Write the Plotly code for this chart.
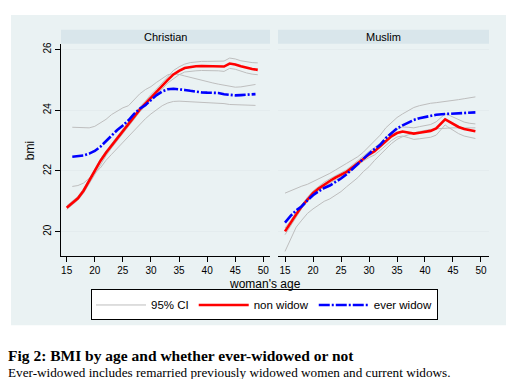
import plotly.graph_objects as go

W, H = 523, 379

# ---------------- data ----------------
# Christian
chr_nw_age = [15, 16, 17, 18, 19, 20, 21, 22, 23, 24, 25, 26, 27, 28, 29, 30, 31, 32,
              33, 34, 35, 36, 37, 38, 39, 40, 41, 42, 43, 44, 45, 46, 47, 48, 49]
chr_nw_bmi = [20.79, 20.95, 21.10, 21.35, 21.68, 22.03, 22.33, 22.60, 22.84, 23.08, 23.33,
              23.56, 23.78, 24.02, 24.22, 24.42, 24.60, 24.80, 25.00, 25.18, 25.30, 25.39,
              25.43, 25.45, 25.46, 25.46, 25.46, 25.45, 25.44, 25.54, 25.51, 25.45, 25.40,
              25.36, 25.33]
chr_nw_hi = [20.85, 21.01, 21.16, 21.41, 21.74, 22.09, 22.39, 22.66, 22.90, 23.14, 23.41,
             23.64, 23.86, 24.10, 24.30, 24.52, 24.70, 24.90, 25.10, 25.31, 25.43, 25.52,
             25.57, 25.60, 25.61, 25.61, 25.61, 25.61, 25.62, 25.72, 25.69, 25.63, 25.59,
             25.57, 25.56]
chr_nw_lo = [20.73, 20.89, 21.04, 21.27, 21.58, 21.92, 22.22, 22.50, 22.76, 23.00, 23.25,
             23.48, 23.70, 23.94, 24.14, 24.32, 24.50, 24.70, 24.90, 25.05, 25.17, 25.26,
             25.29, 25.30, 25.31, 25.31, 25.31, 25.30, 25.28, 25.38, 25.35, 25.28, 25.23,
             25.19, 25.17]

chr_ew_age = [16, 17, 18, 19, 20, 21, 22, 23, 24, 25, 26, 27, 28, 29, 30, 31, 32, 33,
              34, 35, 36, 37, 38, 39, 40, 41, 42, 43, 44, 45, 46, 47, 48, 48.6]
chr_ew_bmi = [22.47, 22.48, 22.51, 22.57, 22.66, 22.80, 22.98, 23.18, 23.35, 23.50, 23.67,
              23.88, 24.05, 24.17, 24.33, 24.50, 24.62, 24.69, 24.71, 24.70, 24.67, 24.64,
              24.61, 24.59, 24.58, 24.58, 24.57, 24.53, 24.50, 24.49, 24.50, 24.51, 24.52,
              24.53]
chr_ew_hi = [23.44, 23.43, 23.41, 23.42, 23.47, 23.58, 23.70, 23.86, 23.98, 24.08, 24.15,
             24.35, 24.54, 24.68, 24.78, 24.92, 25.05, 25.17, 25.20, 25.18, 25.13, 25.08,
             25.04, 25.00, 24.95, 24.90, 24.86, 24.82, 24.78, 24.76, 24.77, 24.80, 24.84,
             24.85]
chr_ew_lo = [21.49, 21.52, 21.60, 21.75, 21.92, 22.10, 22.35, 22.55, 22.75, 22.93, 23.12,
             23.33, 23.55, 23.72, 23.88, 24.02, 24.15, 24.24, 24.29, 24.30, 24.29, 24.28,
             24.27, 24.27, 24.26, 24.25, 24.24, 24.22, 24.19, 24.18, 24.18, 24.17, 24.16,
             24.16]

# Muslim
mus_nw_age = [15, 16, 17, 18, 19, 20, 21, 22, 23, 24, 25, 26, 27, 28, 29, 30, 31, 32,
              33, 34, 35, 36, 37, 38, 39, 40, 41, 42, 43, 43.6, 44, 45, 46, 47, 48, 49]
mus_nw_bmi = [20.01, 20.27, 20.57, 20.84, 21.06, 21.27, 21.42, 21.56, 21.67, 21.78, 21.87,
              21.97, 22.11, 22.26, 22.42, 22.54, 22.65, 22.80, 22.98, 23.14, 23.25, 23.30,
              23.27, 23.23, 23.26, 23.29, 23.32, 23.40, 23.60, 23.70, 23.66, 23.55, 23.45,
              23.38, 23.34, 23.31]
mus_nw_hi = [20.12, 20.36, 20.65, 20.91, 21.13, 21.34, 21.49, 21.63, 21.74, 21.85, 21.94,
             22.04, 22.19, 22.34, 22.51, 22.64, 22.77, 22.92, 23.11, 23.28, 23.38, 23.45,
             23.44, 23.42, 23.46, 23.49, 23.53, 23.62, 23.80, 23.88, 23.86, 23.77, 23.68,
             23.61, 23.57, 23.55]
mus_nw_lo = [19.90, 20.18, 20.49, 20.77, 20.99, 21.20, 21.35, 21.49, 21.60, 21.71, 21.80,
             21.90, 22.03, 22.18, 22.33, 22.44, 22.53, 22.68, 22.85, 23.00, 23.12, 23.15,
             23.10, 23.04, 23.06, 23.09, 23.11, 23.18, 23.40, 23.52, 23.46, 23.34, 23.23,
             23.15, 23.10, 23.07]

mus_ew_age = [15, 16, 17, 18, 19, 20, 21, 22, 23, 24, 25, 26, 27, 28, 29, 30, 31, 32,
              33, 34, 35, 36, 37, 38, 39, 40, 41, 42, 43, 44, 45, 46, 47, 48, 49]
mus_ew_bmi = [20.30, 20.52, 20.70, 20.84, 21.03, 21.20, 21.33, 21.44, 21.52, 21.63, 21.75,
              21.89, 22.06, 22.26, 22.43, 22.57, 22.72, 22.86, 23.08, 23.25, 23.40, 23.50,
              23.60, 23.68, 23.74, 23.78, 23.82, 23.85, 23.87, 23.88, 23.89, 23.90, 23.91,
              23.92, 23.93]
mus_ew_hi = [21.27, 21.35, 21.42, 21.50, 21.56, 21.65, 21.73, 21.82, 21.92, 22.03, 22.13,
             22.25, 22.36, 22.47, 22.62, 22.80, 22.97, 23.18, 23.42, 23.60, 23.76, 23.88,
             23.99, 24.09, 24.15, 24.20, 24.23, 24.25, 24.27, 24.29, 24.32, 24.35, 24.38,
             24.41, 24.44]
mus_ew_lo = [19.35, 19.75, 20.15, 20.38, 20.60, 20.75, 20.88, 21.00, 21.08, 21.20, 21.32,
             21.48, 21.62, 21.78, 21.98, 22.14, 22.35, 22.55, 22.72, 22.90, 23.04, 23.13,
             23.20, 23.25, 23.30, 23.34, 23.37, 23.39, 23.41, 23.41, 23.42, 23.42, 23.42,
             23.42, 23.42]

panel_titles = ["Christian", "Muslim"]
x_ticks = [15, 20, 25, 30, 35, 40, 45, 50]
y_ticks = [20, 22, 24, 26]
legend_labels = ["95% CI", "non widow", "ever widow"]

# ---------------- styles ----------------
GRAY = "#BEBEBE"
RED = "#FF0000"
BLUE = "#0000FF"
BG = "#EAF2F3"
STRIP = "#D9E6EB"
GRID = "#E4ECEE"

fig = go.Figure()

panels = [
    ("x", "y", chr_nw_age, chr_nw_bmi, chr_nw_hi, chr_nw_lo,
     chr_ew_age, chr_ew_bmi, chr_ew_hi, chr_ew_lo),
    ("x2", "y2", mus_nw_age, mus_nw_bmi, mus_nw_hi, mus_nw_lo,
     mus_ew_age, mus_ew_bmi, mus_ew_hi, mus_ew_lo),
]

for i, (xa, ya, nwa, nwb, nwh, nwl, ewa, ewb, ewh, ewl) in enumerate(panels):
    first = (i == 0)
    for k, (ax, ay) in enumerate([(ewa, ewh), (ewa, ewl), (nwa, nwh), (nwa, nwl)]):
        fig.add_trace(go.Scatter(
            x=ax, y=ay, xaxis=xa, yaxis=ya, mode="lines",
            line=dict(color=GRAY, width=1),
            name=legend_labels[0], legendgroup="ci",
            showlegend=(first and k == 0), hoverinfo="skip"))
    fig.add_trace(go.Scatter(
        x=nwa, y=nwb, xaxis=xa, yaxis=ya, mode="lines",
        line=dict(color=RED, width=2.6),
        name=legend_labels[1], legendgroup="nw", showlegend=first))
    fig.add_trace(go.Scatter(
        x=ewa, y=ewb, xaxis=xa, yaxis=ya, mode="lines",
        line=dict(color=BLUE, width=2.6, dash="11px,2px,2px,2px"),
        name=legend_labels[2], legendgroup="ew", showlegend=first))


def px_x(p):
    return p / W


def px_y(p):
    return 1 - p / H


y_dom = [px_y(255), px_y(42)]
yrange = [19.21, 26.19]
tickfont = dict(family="Liberation Sans, Arial, sans-serif", size=10, color="#000000")

common_x = dict(
    tickmode="array", tickvals=x_ticks, ticks="outside", ticklen=5, tickcolor="#000",
    tickwidth=1, showline=True, linecolor="#000", linewidth=1, showgrid=False,
    zeroline=False, tickfont=tickfont,
)

fig.update_layout(
    width=W, height=H,
    margin=dict(l=0, r=0, t=0, b=0),
    paper_bgcolor="#FFFFFF",
    plot_bgcolor="#FFFFFF",
    font=dict(family="Liberation Sans, Arial, sans-serif", color="#000"),
    xaxis=dict(domain=[px_x(61), px_x(270)], range=[13.99, 51.18], anchor="y", **common_x),
    xaxis2=dict(domain=[px_x(278), px_x(489)], range=[13.75, 51.43], anchor="y2", **common_x),
    yaxis=dict(domain=y_dom, range=yrange, anchor="x", tickmode="array", tickvals=y_ticks,
               ticks="outside", ticklen=5, tickcolor="#000", showline=True, linecolor="#000",
               linewidth=1, showgrid=True, gridcolor=GRID, gridwidth=1, zeroline=False,
               tickangle=-90, tickfont=tickfont),
    yaxis2=dict(domain=y_dom, range=yrange, anchor="x2", tickmode="array", tickvals=y_ticks,
                ticks="", showticklabels=False, showline=False, showgrid=True,
                gridcolor=GRID, gridwidth=1, zeroline=False),
    showlegend=True,
    legend=dict(
        orientation="h", x=px_x(264.5), xanchor="center", y=px_y(289), yanchor="top",
        bgcolor="#FFFFFF", bordercolor="#000000", borderwidth=1,
        font=dict(family="Liberation Sans, Arial, sans-serif", size=11.5, color="#000"),
        itemwidth=50, tracegroupgap=0, itemsizing="trace",
    ),
    shapes=[
        dict(type="rect", xref="paper", yref="paper", x0=px_x(11), x1=px_x(506),
             y0=px_y(325), y1=px_y(13), fillcolor=BG, line=dict(width=0), layer="below"),
        dict(type="rect", xref="paper", yref="paper", x0=px_x(61), x1=px_x(270),
             y0=px_y(42), y1=px_y(28), fillcolor=STRIP, line=dict(width=0), layer="below"),
        dict(type="rect", xref="paper", yref="paper", x0=px_x(278), x1=px_x(489),
             y0=px_y(42), y1=px_y(28), fillcolor=STRIP, line=dict(width=0), layer="below"),
    ],
    annotations=[
        dict(text=panel_titles[0], xref="paper", yref="paper", x=px_x(165.5), y=px_y(35),
             showarrow=False, xanchor="center", yanchor="middle", font=dict(size=11)),
        dict(text=panel_titles[1], xref="paper", yref="paper", x=px_x(383.5), y=px_y(35),
             showarrow=False, xanchor="center", yanchor="middle", font=dict(size=11)),
        dict(text="bmi", xref="paper", yref="paper", x=px_x(30), y=px_y(150), textangle=-90,
             showarrow=False, xanchor="center", yanchor="middle", font=dict(size=12)),
        dict(text="woman's age", xref="paper", yref="paper", x=px_x(264.5), y=px_y(283.5),
             showarrow=False, xanchor="center", yanchor="middle", font=dict(size=12)),
        dict(text="<b>Fig 2: BMI by age and whether ever-widowed or not</b>", xref="paper",
             yref="paper", x=px_x(6), y=px_y(355), showarrow=False, xanchor="left",
             yanchor="middle",
             font=dict(family="Liberation Serif, Times New Roman, serif", size=15.5)),
        dict(text="Ever-widowed includes remarried previously widowed women and current widows.",
             xref="paper", yref="paper", x=px_x(6), y=px_y(372), showarrow=False,
             xanchor="left", yanchor="middle",
             font=dict(family="Liberation Serif, Times New Roman, serif", size=13.2)),
    ],
)

fig.write_html("out.html",
               config={"displayModeBar": False},
               post_script="document.body.style.margin='0';document.body.style.padding='0';document.body.style.overflow='hidden';")
